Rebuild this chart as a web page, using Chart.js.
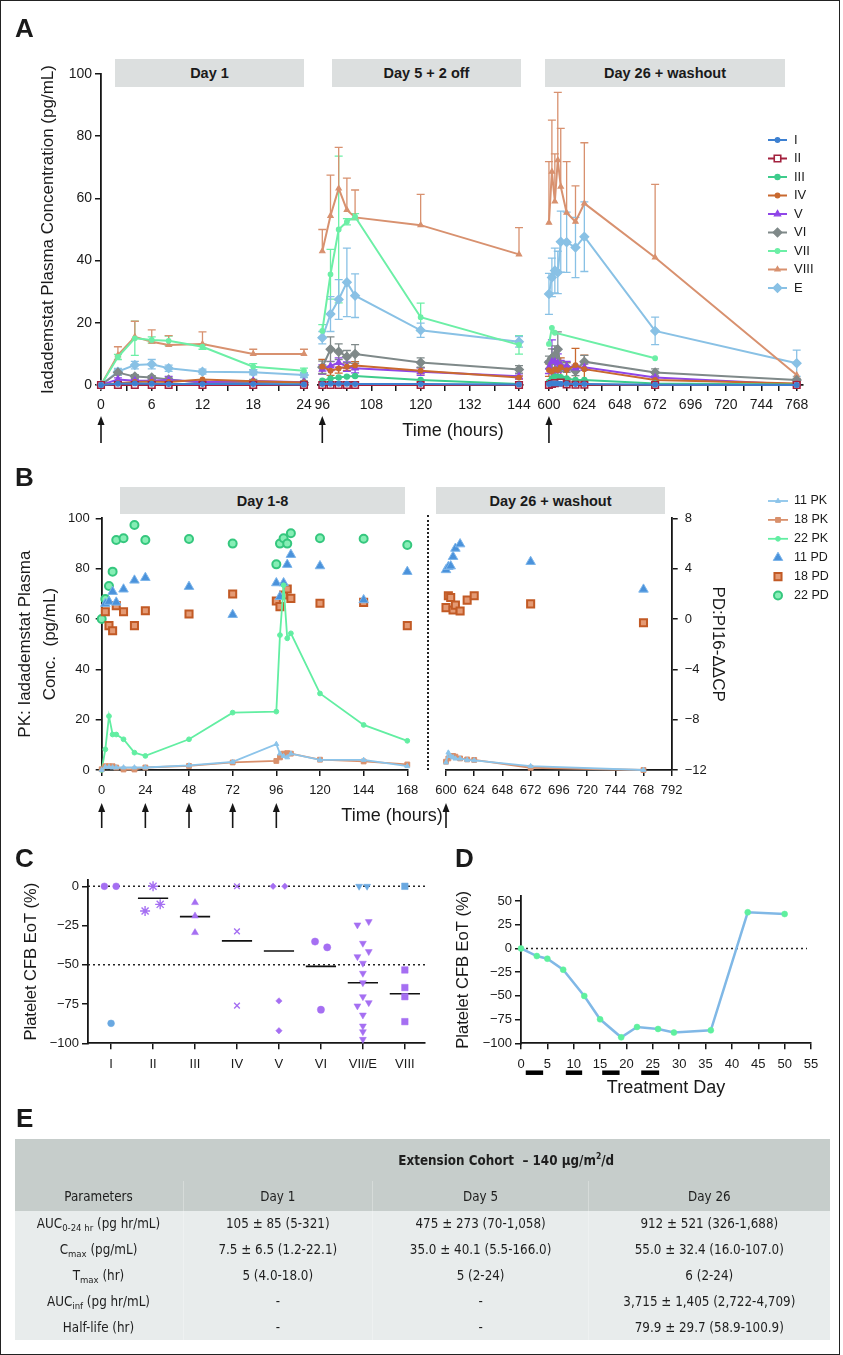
<!DOCTYPE html>
<html lang="en">
<head>
<meta charset="utf-8">
<title>Iadademstat PK/PD</title>
<script src="https://cdn.jsdelivr.net/npm/chart.js@4.4.1/dist/chart.umd.min.js"></script>
<style>
  html, body { margin: 0; padding: 0; background: #fff; }
  body { position: relative; width: 843px; height: 1355px; overflow: hidden;
         font-family: "Liberation Sans", Arial, sans-serif; color: #1a1a1a; }
  canvas { position: absolute; left: 0; top: 0; pointer-events: none; }
  .frame { position: absolute; left: 0; top: 0; width: 840px; height: 1355px;
           box-sizing: border-box; border: 1.5px solid #222; }
  .letter { position: absolute; font-size: 26px; font-weight: bold; line-height: 1; }
  .band { position: absolute; height: 28px; background: #dcdfdf; font-size: 14.5px; font-weight: bold;
          display: flex; align-items: center; justify-content: center; }
  .xtitle { position: absolute; font-size: 18px; line-height: 1; white-space: nowrap; transform: translate(-50%, -50%); }
  .gap { position: absolute; left: 426.5px; top: 515px; height: 255px; border-left: 2px dotted #222; }
  #pk { position: absolute; left: 14.5px; top: 1139px; width: 815px; border-collapse: collapse; table-layout: fixed;
        font-family: "Liberation Sans Narrow", "DejaVu Sans Condensed", "Liberation Sans", sans-serif;
        font-size: 13.3px; color: #1e1e1e; }
  #pk th, #pk td { text-align: center; padding: 0; white-space: nowrap; border-left: 1px solid rgba(255,255,255,0.28); }
  #pk th:first-child, #pk td:first-child { border-left: none; }
  #pk thead tr.top th { border-left: none; }
  #pk thead { background: #c6cdcb; }
  #pk tbody { background: #e8ecec; }
  #pk thead tr.top th { height: 42px; font-weight: bold; }
  #pk thead tr.cols th { height: 30px; font-weight: normal; }
  #pk tbody td { height: 25.8px; }
  #pk sub { font-size: 9.5px; vertical-align: -3px; line-height: 0; }
  #pk sup { font-size: 8.5px; vertical-align: 6px; line-height: 0; }
</style>
</head>
<body>
<canvas id="a1" width="843" height="1355"></canvas>
<canvas id="a2" width="843" height="1355"></canvas>
<canvas id="a3" width="843" height="1355"></canvas>
<canvas id="b1" width="843" height="1355"></canvas>
<canvas id="b2" width="843" height="1355"></canvas>
<canvas id="c" width="843" height="1355"></canvas>
<canvas id="d" width="843" height="1355"></canvas>

<div class="frame"></div>
<div class="letter" style="left:15px;top:15px">A</div>
<div class="letter" style="left:15px;top:464px">B</div>
<div class="letter" style="left:15px;top:845px">C</div>
<div class="letter" style="left:455px;top:845px">D</div>
<div class="letter" style="left:16px;top:1105px">E</div>

<div class="band" style="left:115px;top:59px;width:189px">Day 1</div>
<div class="band" style="left:332px;top:59px;width:189px">Day 5 + 2 off</div>
<div class="band" style="left:545px;top:59px;width:240px">Day 26 + washout</div>
<div class="band" style="left:120px;top:487px;width:285px;height:27px">Day 1-8</div>
<div class="band" style="left:436px;top:487px;width:229px;height:27px">Day 26 + washout</div>

<div class="xtitle" style="left:453px;top:430px">Time (hours)</div>
<div class="xtitle" style="left:392px;top:815px">Time (hours)</div>
<div class="gap"></div>

<table id="pk">
  <colgroup><col style="width:168.5px"><col style="width:189.6px"><col style="width:216px"><col style="width:240.9px"></colgroup>
  <thead>
    <tr class="top"><th></th><th colspan="3">Extension Cohort &nbsp;– 140 µg/m<sup>2</sup>/d</th></tr>
    <tr class="cols"><th>Parameters</th><th>Day 1</th><th>Day 5</th><th>Day 26</th></tr>
  </thead>
  <tbody></tbody>
</table>

<script>
// ---------- Panel A: mean plasma concentration by cohort ----------
const groupsA = ['I', 'II', 'III', 'IV', 'V', 'VI', 'VII', 'VIII', 'E'];

const day1Hours = [0, 2, 4, 6, 8, 12, 18, 24];
const day1_I    = [0, 0.4, 0.5, 0.4, 0.3, 0.3, 0.3, 0.2];
const day1_II   = [0, 0, 0, 0, 0, 0, 0, 0];
const day1_III  = [0, 0.2, 0.2, 0.3, 0.2, 0.2, 0.2, 0.1];
const day1_IV   = [0, 0.6, 1.0, 1.1, 1.0, 1.8, 1.2, 0.8];
const day1_V    = [0, 1.8, 1.4, 1.4, 1.6, 1.0, 1.3, 0.9];
const day1_VI   = [0, 4.0, 2.7, 2.4, 1.8, 0.7, 1.0, 0.7];
const day1_VII  = [0, 9.0, 15.0, 14.5, 14.2, 12.3, 5.9, 4.6];
const day1_VIII = [0, 9.6, 15.5, 13.9, 12.9, 13.2, 10.0, 10.0];
const day1_E    = [0, 4.3, 6.4, 6.7, 5.4, 4.3, 4.1, 3.2];
const day1Sd_V    = [0, 0.5, 0.4, 0.4, 1.2, 0.3, 0.3, 0.3];
const day1Sd_VI   = [0, 0.8, 0.6, 0.6, 0.5, 0.3, 0.8, 0.5];
const day1Sd_VII  = [0, 0.8, 5.5, 1.0, 1.5, 0.8, 1.0, 0.8];
const day1Sd_VIII = [0, 2.7, 5.0, 3.8, 3.0, 3.9, 1.5, 1.5];
const day1Sd_E    = [0, 1.0, 1.2, 1.5, 1.0, 0.8, 0.8, 0.8];

const day5Hours = [96, 98, 100, 102, 104, 120, 144];
const day5_I    = [0.3, 0.4, 0.4, 0.4, 0.3, 0.3, 0.2];
const day5_II   = [0, 0, 0, 0, 0, 0, 0];
const day5_III  = [1.4, 2.1, 2.4, 2.7, 2.9, 1.6, 0.3];
const day5_IV   = [5.9, 4.6, 5.3, 5.9, 6.3, 4.6, 2.4];
const day5_V    = [5.0, 6.1, 7.2, 5.9, 5.4, 4.3, 2.8];
const day5_VI   = [5.7, 11.5, 10.7, 9.1, 10.0, 7.2, 5.0];
const day5_VII  = [17.4, 35.6, 50.0, 52.5, 54.1, 21.8, 12.9];
const day5_VIII = [43.0, 54.4, 63.2, 56.3, 53.9, 51.4, 42.0];
const day5_E    = [15.2, 22.8, 27.5, 33.0, 28.7, 17.6, 13.9];
const day5Sd_IV   = [2.3, 1.5, 1.5, 1.2, 1.2, 1.0, 0.5];
const day5Sd_V    = [1.5, 1.5, 1.5, 1.5, 1.5, 1.2, 0.8];
const day5Sd_VI   = [2.0, 4.0, 2.5, 2.0, 3.0, 1.5, 1.2];
const day5Sd_VII  = [2.0, 8.0, 23.6, 1.0, 1.0, 4.5, 3.0];
const day5Sd_VIII = [7.0, 13.1, 13.2, 10.2, 8.8, 9.9, 8.6];
const day5Sd_E    = [2.0, 5.6, 6.4, 11.0, 7.0, 2.3, 1.7];

const day26Hours = [600, 602, 604, 606, 608, 612, 618, 624, 672, 768];
const day26_I    = [0.3, 0.5, 0.5, 0.5, 0.4, 0.4, 0.3, 0.3, 0.1, 0];
const day26_II   = [0, 0.3, 0.6, null, 0.8, 0.2, 0.1, 0.1, 0, 0];
const day26_III  = [1.0, 2.1, 2.7, 2.7, 2.5, 2.1, 1.6, 1.6, 0.5, 0.2];
const day26_IV   = [4.8, 4.3, 5.0, 4.8, 5.7, 4.8, 6.4, 5.1, 1.6, 0.5];
const day26_V    = [5.7, 7.5, 7.5, 7.0, 6.4, 6.1, 5.4, 5.7, 2.4, 0.2];
const day26_VI   = [7.3, 8.6, 9.6, 11.5, 5.9, 5.6, 4.5, 7.5, 4.0, 1.6];
const day26_VII  = [13.2, 18.4, 16.8, null, null, null, null, null, 8.6, null];
const day26_VIII = [52.2, 68.6, 59.0, 72.3, 63.8, 55.4, 52.5, 58.4, 41.0, 3.2];
const day26_E    = [29.3, 34.6, 36.8, 36.2, 46.1, 45.9, 44.2, 47.7, 17.4, 7.0];
const day26Sd_IV   = [2.0, 2.5, 3.0, 3.0, 3.0, 2.5, 5.4, 4.5, 0.8, 0.3];
const day26Sd_V    = [2.0, 7.0, 4.0, 3.0, 1.5, 1.5, 1.0, 1.0, 0.5, 0.2];
const day26Sd_VI   = [2.0, 3.0, 3.0, 5.6, 1.5, 1.5, 1.5, 2.0, 1.2, 0.5];
const day26Sd_VIII = [19.6, 16.6, 15.3, 21.8, 18.7, 16.4, 11.5, 19.5, 23.5, 0];
const day26Sd_E    = [6.6, 6.2, 7.2, 6.8, 9.8, 9.7, 9.7, 11.2, 4.4, 4.2];

const aYTicks = [0, 20, 40, 60, 80, 100];
const a1Ticks = [0, 3, 6, 9, 12, 15, 18, 21, 24];
const a1Labels = [0, 6, 12, 18, 24];
const a2Ticks = [96, 102, 108, 114, 120, 126, 132, 138, 144];
const a2Labels = [96, 108, 120, 132, 144];
const a3Ticks = [600, 612, 624, 636, 648, 660, 672, 684, 696, 708, 720, 732, 744, 756, 768];
const a3Labels = [600, 624, 648, 672, 696, 720, 744, 768];

// ---------- Panel B: three patients, PK (left) and PD (right) ----------
const bHours1 = [0, 2, 4, 6, 8, 12, 18, 24, 48, 72, 96, 98, 100, 102, 104, 120, 144, 168];
const pk11_1 = [0, 1.2, 1.2, 1.0, 1.0, 1.0, 1.0, 1.0, 1.8, 3.2, 10.3, 6.5, 5.5, 5.0, 6.5, 4.0, 4.0, 1.5];
const pk18_1 = [0.3, 1.5, 1.5, 1.5, 1.0, 0.2, 0.2, 1.0, 1.6, 3.0, 3.6, 5.0, 6.5, 6.7, 6.5, 4.1, 3.4, 2.2];
const pk22_1 = [0, 8.2, 21.4, 14.1, 14.1, 12.2, 6.9, 5.6, 12.2, 22.8, 23.2, 53.6, 73.4, 52.3, 54.3, 30.4, 17.9, 11.6];
const pd11_1 = [null, 1.22, 1.38, 2.17, 1.32, 2.36, 3.07, 3.28, 2.57, 0.34, 2.86, 1.77, 2.86, 4.32, 5.11, 4.21, 1.51, 3.76];
const pd18_1 = [null, 0.58, -0.53, -0.93, 1.06, 0.58, -0.53, 0.66, 0.40, 1.99, 1.43, 0.98, 1.91, 2.38, 1.64, 1.25, 1.32, -0.53];
const pd22_1 = [0.0, 1.59, 2.62, 3.76, 6.28, 6.41, 7.47, 6.28, 6.36, 5.99, 4.34, 5.99, 6.41, 5.99, 6.81, 6.41, 6.38, 5.88];

const bHours2 = [600, 602, 604, 606, 608, 612, 618, 624, 672, 768];
const pk11_2 = [3.0, 6.9, 5.5, 5.0, 4.5, 4.5, 4.0, 3.8, 1.5, 0];
const pk18_2 = [3.3, 4.6, 5.6, 5.6, 5.3, 4.6, 4.2, 4.0, 0.9, 0];
const pd11_2 = [3.9, 4.15, 4.2, 4.95, 5.6, 5.95, null, null, 4.55, 2.35];
const pd18_2 = [0.9, 1.85, 1.7, 0.72, 1.1, 0.64, 1.5, 1.85, 1.2, -0.3];

const bYTicks = [0, 20, 40, 60, 80, 100];
const bPdTicks = [-12, -8, -4, 0, 4, 8];
const b1Ticks = [0, 24, 48, 72, 96, 120, 144, 168];
const b2Ticks = [600, 624, 648, 672, 696, 720, 744, 768, 792];
const bDoses1 = [0, 24, 48, 72, 96];
const bDoses2 = [600];

// ---------- Panel C: platelet change from baseline by cohort ----------
const cCats = ['I', 'II', 'III', 'IV', 'V', 'VI', 'VII/E', 'VIII'];
const cVal_I    = [0, 0, -87.3];
const cVal_II   = [0, -15.7, -11.5];
const cVal_III  = [-10.4, -18.9, -29.5];
const cVal_IV   = [0, -28.7, -76.0];
const cVal_V    = [0, 0, -73.0, -92.0];
const cVal_VI   = [-35.2, -38.9, -78.6];
const cVal_VII  = [0, 0, -22.5, -24.6, -36.3, -41.6, -44.8, -49.0, -55.4, -61.4, -70.3, -74.1, -76.2, -82.0, -89.0, -92.6, -97.5];
const cVal_VIII = [0, -53.3, -64.5, -70.3, -86.2];
const cJit_I    = [-0.16, 0.12, 0];
const cJit_II   = [0, -0.19, 0.17];
const cJit_III  = [0, 0, 0];
const cJit_IV   = [0, 0, 0];
const cJit_V    = [-0.14, 0.14, 0, 0];
const cJit_VI   = [-0.14, 0.15, 0];
const cJit_VII  = [-0.09, 0.10, 0.14, -0.13, 0, 0.14, -0.13, 0, 0, 0, 0, 0.14, -0.13, 0, 0, 0, 0];
const cJit_VIII = [0, 0, 0, 0, 0];
const cExt_I    = [0, 0, 1];
const cExt_VII  = [1, 1, 0, 0, 0, 0, 0, 0, 0, 0, 0, 0, 0, 0, 0, 0, 0];
const cExt_VIII = [1, 0, 0, 0, 0];
const cMedian   = [null, -7.6, -19.3, -34.8, -41.2, -51.0, -61.4, -68.4];
const cYTicks = [-100, -75, -50, -25, 0];

// ---------- Panel D: platelet change over treatment days ----------
const dDays = [0, 3, 5, 8, 12, 15, 19, 22, 26, 29, 36, 43, 50];
const dCfb  = [0, -8.0, -10.8, -22.4, -50.1, -74.7, -93.7, -82.8, -84.9, -88.7, -86.3, 38.1, 36.3];
const dDosing = [[0.9, 4.2], [8.5, 11.6], [15.4, 18.7], [22.8, 26.2]];
const dXTicks = [0, 5, 10, 15, 20, 25, 30, 35, 40, 45, 50, 55];
const dYTicks = [-100, -75, -50, -25, 0, 25, 50];

// ---------- Panel E: table ----------
const pkParams = ['AUC<sub>0-24 hr</sub> (pg hr/mL)', 'C<sub>max</sub> (pg/mL)', 'T<sub>max</sub> (hr)', 'AUC<sub>inf</sub> (pg hr/mL)', 'Half-life (hr)'];
const pkDay1  = ['105 ± 85 (5-321)', '7.5 ± 6.5 (1.2-22.1)', '5 (4.0-18.0)', '-', '-'];
const pkDay5  = ['475 ± 273 (70-1,058)', '35.0 ± 40.1 (5.5-166.0)', '5 (2-24)', '-', '-'];
const pkDay26 = ['912 ± 521 (326-1,688)', '55.0 ± 32.4 (16.0-107.0)', '6 (2-24)', '3,715 ± 1,405 (2,722-4,709)', '79.9 ± 29.7 (58.9-100.9)'];

// ===================================================================
const W = 843, H = 1355;
const ink = '#161616';
const FONT = '"Liberation Sans", Arial, sans-serif';
Chart.defaults.font.family = FONT;
Chart.defaults.color = '#1a1a1a';

const tickGrid = { display: true, drawOnChartArea: false, drawTicks: true, tickLength: 6, color: ink, lineWidth: 1.5 };
const axisBorder = { display: true, color: ink, width: 1.8 };
const fmt = v => (v < 0 ? '\u2212' + Math.abs(v) : String(v));
const pairs = (xs, ys) => xs.map((x, i) => ({ x, y: ys[i] }));

// error bars (mean ± SD), drawn under the lines
const errorBars = {
  id: 'errorBars',
  beforeDatasetsDraw(chart) {
    const ctx = chart.ctx;
    chart.data.datasets.forEach(ds => {
      if (!ds.sdUp) return;
      const xs = chart.scales.x, ys = chart.scales[ds.yAxisID || 'y'];
      ctx.save();
      ctx.strokeStyle = ds.borderColor;
      ctx.lineWidth = 1.3;
      ds.data.forEach((p, j) => {
        const up = ds.sdUp[j] || 0, dn = ds.sdDown ? (ds.sdDown[j] || 0) : 0;
        if (p.y == null || (!up && !dn)) return;
        const x = xs.getPixelForValue(p.x);
        const y1 = ys.getPixelForValue(p.y + up);
        const y2 = ys.getPixelForValue(Math.max(p.y - dn, ys.min));
        ctx.beginPath();
        ctx.moveTo(x, y1); ctx.lineTo(x, y2);
        if (up) { ctx.moveTo(x - 4, y1); ctx.lineTo(x + 4, y1); }
        if (dn && p.y - dn > ys.min) { ctx.moveTo(x - 4, y2); ctx.lineTo(x + 4, y2); }
        ctx.stroke();
      });
      ctx.restore();
    });
  }
};

// dosing arrows under the time axis
const doseArrows = {
  id: 'doseArrows',
  afterDraw(chart, args, opts) {
    if (!opts.at) return;
    const { ctx, chartArea } = chart;
    const top = chartArea.bottom + opts.offset, bottom = top + opts.length;
    ctx.save();
    ctx.strokeStyle = ink; ctx.fillStyle = ink; ctx.lineWidth = 1.6;
    opts.at.forEach(v => {
      const x = chart.scales.x.getPixelForValue(v);
      ctx.beginPath(); ctx.moveTo(x, top + 6); ctx.lineTo(x, bottom); ctx.stroke();
      ctx.beginPath(); ctx.moveTo(x, top); ctx.lineTo(x - 3.5, top + 9); ctx.lineTo(x + 3.5, top + 9); ctx.closePath(); ctx.fill();
    });
    ctx.restore();
  }
};

// treatment periods in panel D
const dosingBars = {
  id: 'dosingBars',
  afterDraw(chart, args, opts) {
    if (!opts.periods) return;
    const { ctx, chartArea } = chart;
    const y = chartArea.bottom + opts.offset;
    ctx.save();
    ctx.strokeStyle = '#000'; ctx.lineWidth = opts.width; ctx.lineCap = 'butt';
    opts.periods.forEach(([a, b]) => {
      ctx.beginPath();
      ctx.moveTo(chart.scales.x.getPixelForValue(a), y);
      ctx.lineTo(chart.scales.x.getPixelForValue(b), y);
      ctx.stroke();
    });
    ctx.restore();
  }
};

// dotted reference lines
const refLines = {
  id: 'refLines',
  beforeDatasetsDraw(chart, args, opts) {
    if (!opts.values) return;
    const { ctx, chartArea } = chart;
    ctx.save();
    ctx.setLineDash([2, 3]); ctx.strokeStyle = '#222'; ctx.lineWidth = 1.6;
    opts.values.forEach(v => {
      const y = chart.scales.y.getPixelForValue(v);
      ctx.beginPath(); ctx.moveTo(chartArea.left, y); ctx.lineTo(chartArea.right - (opts.trim || 0), y); ctx.stroke();
    });
    ctx.restore();
  }
};

// small legend drawn from the datasets' own styles
const sideLegend = {
  id: 'sideLegend',
  afterDraw(chart, args, opts) {
    if (!opts.display) return;
    const ctx = chart.ctx;
    ctx.save();
    ctx.font = opts.font;
    ctx.textBaseline = 'middle';
    chart.data.datasets.forEach((ds, i) => {
      const y = opts.y + i * opts.gap;
      const x0 = opts.x, x1 = opts.x + opts.lineLen;
      if (ds.showLine !== false) {
        ctx.strokeStyle = ds.borderColor; ctx.lineWidth = ds.borderWidth || 2;
        ctx.beginPath(); ctx.moveTo(x0, y); ctx.lineTo(x1, y); ctx.stroke();
      }
      ctx.fillStyle = ds.pointBackgroundColor || ds.backgroundColor;
      ctx.strokeStyle = ds.pointBorderColor || ds.borderColor;
      ctx.lineWidth = ds.pointBorderWidth || 1;
      Chart.helpers.drawPoint(ctx, { pointStyle: ds.pointStyle, radius: ds.pointRadius, rotation: ds.pointRotation || 0,
        borderWidth: ds.pointBorderWidth || 1 }, (x0 + x1) / 2, y);
      ctx.fillStyle = '#1a1a1a';
      ctx.fillText(ds.label, x1 + opts.textGap, y);
    });
    ctx.restore();
  }
};

Chart.register(errorBars, doseArrows, dosingBars, refLines, sideLegend);

function padFor(area, leftW, rightW, bottomH) {
  return { left: area.left - leftW, right: W - area.right - rightW, top: area.top, bottom: H - area.bottom - bottomH };
}

function xAxis(o) {
  return {
    type: 'linear', position: 'bottom', min: o.min, max: o.max,
    afterBuildTicks: s => { s.ticks = o.ticks.map(v => ({ value: v })); },
    afterFit: s => { s.height = o.height; },
    ticks: { autoSkip: false, maxRotation: 0, minRotation: 0, padding: o.pad, font: { size: o.size },
             callback: v => ((o.labels || o.ticks).includes(v) ? (o.name ? o.name(v) : fmt(v)) : '') },
    grid: tickGrid, border: axisBorder,
    title: o.title || { display: false }
  };
}

function yAxis(o) {
  return {
    type: 'linear', position: o.position || 'left', display: o.display !== false, min: o.min, max: o.max,
    afterBuildTicks: s => { if (o.ticks) s.ticks = o.ticks.map(v => ({ value: v })); },
    afterFit: s => { s.width = o.width || 0; },
    ticks: { padding: o.pad, font: { size: o.size }, callback: v => fmt(v) },
    grid: tickGrid, border: axisBorder,
    title: o.title || { display: false }
  };
}

function draw(id, type, datasets, scales, area, sizes, plugins) {
  return new Chart(document.getElementById(id), {
    type,
    data: { datasets },
    options: {
      responsive: false, animation: false, events: [],
      layout: { padding: padFor(area, sizes[0], sizes[1], sizes[2]) },
      scales,
      plugins: Object.assign({ legend: { display: false }, tooltip: { enabled: false } }, plugins || {})
    }
  });
}

// ---------- Panel A ----------
const aStyle = [
  { color: '#3d80d1', fill: '#3d80d1', style: 'circle', r: 2.3 },
  { color: '#a3213e', fill: '#ffffff', style: 'rect', r: 4.6 },
  { color: '#3ecc8c', fill: '#3ecc8c', style: 'circle', r: 2.6 },
  { color: '#c9692f', fill: '#c9692f', style: 'circle', r: 2.3 },
  { color: '#8f46e8', fill: '#8f46e8', style: 'triangle', r: 3.6 },
  { color: '#7f8989', fill: '#7f8989', style: 'rectRot', r: 4.4 },
  { color: '#6cefa6', fill: '#6cefa6', style: 'circle', r: 2.3 },
  { color: '#d8916f', fill: '#d8916f', style: 'triangle', r: 3.0 },
  { color: '#89c1e5', fill: '#89c1e5', style: 'rectRot', r: 4.4 }
];

function aSets(hours, vals, sds) {
  return groupsA.map((g, k) => ({
    label: g,
    data: pairs(hours, vals[k]),
    sdUp: sds[k],
    sdDown: g === 'VIII' ? null : sds[k],
    borderColor: aStyle[k].color,
    backgroundColor: aStyle[k].fill,
    pointBackgroundColor: aStyle[k].fill,
    pointBorderColor: aStyle[k].color,
    pointStyle: aStyle[k].style,
    pointRadius: aStyle[k].r,
    pointBorderWidth: g === 'II' ? 1.6 : 1.2,
    borderWidth: 2,
    spanGaps: true,
    clip: false
  }));
}

const day1Vals = [day1_I, day1_II, day1_III, day1_IV, day1_V, day1_VI, day1_VII, day1_VIII, day1_E];
const day1Sds = [null, null, null, null, day1Sd_V, day1Sd_VI, day1Sd_VII, day1Sd_VIII, day1Sd_E];
const day5Vals = [day5_I, day5_II, day5_III, day5_IV, day5_V, day5_VI, day5_VII, day5_VIII, day5_E];
const day5Sds = [null, null, null, day5Sd_IV, day5Sd_V, day5Sd_VI, day5Sd_VII, day5Sd_VIII, day5Sd_E];
const day26Vals = [day26_I, day26_II, day26_III, day26_IV, day26_V, day26_VI, day26_VII, day26_VIII, day26_E];
const day26Sds = [null, null, null, day26Sd_IV, day26Sd_V, day26Sd_VI, null, day26Sd_VIII, day26Sd_E];

const aTop = 74, aBottom = 385;
const aArrows = { offset: 31, length: 27 };

draw('a1', 'line', aSets(day1Hours, day1Vals, day1Sds), {
  x: xAxis({ min: 0, max: 24.5, ticks: a1Ticks, labels: a1Labels, pad: 6, size: 14, height: 30 }),
  y: yAxis({ min: 0, max: 100, ticks: aYTicks, pad: 3, size: 14, width: 67.2,
    title: { display: true, text: 'Iadademstat Plasma Concentration (pg/mL)', font: { size: 17 }, padding: { top: 4, bottom: 4 } } })
}, { left: 101, right: 308.2, top: aTop, bottom: aBottom }, [67.2, 0, 30],
{ doseArrows: Object.assign({ at: [0] }, aArrows) });

draw('a2', 'line', aSets(day5Hours, day5Vals, day5Sds), {
  x: xAxis({ min: 95, max: 145, ticks: a2Ticks, labels: a2Labels, pad: 6, size: 14, height: 30 }),
  y: yAxis({ display: false, min: 0, max: 100 })
}, { left: 318.2, right: 523.1, top: aTop, bottom: aBottom }, [0, 0, 30],
{ doseArrows: Object.assign({ at: [96] }, aArrows) });

draw('a3', 'line', aSets(day26Hours, day26Vals, day26Sds), {
  x: xAxis({ min: 598, max: 772, ticks: a3Ticks, labels: a3Labels, pad: 6, size: 14, height: 30 }),
  y: yAxis({ display: false, min: 0, max: 100 })
}, { left: 546, right: 802.6, top: aTop, bottom: aBottom }, [0, 0, 30],
{ doseArrows: Object.assign({ at: [600] }, aArrows),
  sideLegend: { display: true, x: 768, y: 140, gap: 18.5, lineLen: 19, textGap: 7, font: '13px ' + FONT } });

// ---------- Panel B ----------
function pkLine(label, hours, vals, color, style, r) {
  return { label, data: pairs(hours, vals), yAxisID: 'y', borderColor: color, backgroundColor: color,
    pointBackgroundColor: color, pointBorderColor: color, pointStyle: style, pointRadius: r,
    pointBorderWidth: 1, borderWidth: 1.8, spanGaps: true, clip: false };
}
function pdDots(label, hours, vals, fill, edge, style, r, bw) {
  return { label, data: pairs(hours, vals), yAxisID: 'y2', showLine: false, borderColor: edge, backgroundColor: fill,
    pointBackgroundColor: fill, pointBorderColor: edge, pointStyle: style, pointRadius: r, pointBorderWidth: bw, clip: false };
}
const col11 = '#8cc4ea', col18 = '#d9906c', col22 = '#62eea2';

const bTop = 518.3, bBottom = 770;
const bArrows = { offset: 33, length: 25 };

draw('b1', 'line', [
  pkLine('11 PK', bHours1, pk11_1, col11, 'triangle', 2.8),
  pkLine('18 PK', bHours1, pk18_1, col18, 'rect', 3.4),
  pkLine('22 PK', bHours1, pk22_1, col22, 'circle', 2.4),
  pdDots('11 PD', bHours1, pd11_1, '#4a92db', '#7db5ea', 'triangle', 5.5, 1),
  pdDots('18 PD', bHours1, pd18_1, '#e49a74', '#c25a25', 'rect', 5, 2),
  pdDots('22 PD', bHours1, pd22_1, '#86eeb5', '#35c77e', 'circle', 4, 2)
], {
  x: xAxis({ min: 0, max: 168, ticks: b1Ticks, pad: 7, size: 13, height: 30 }),
  y: yAxis({ min: 0, max: 100, ticks: bYTicks, pad: 6, size: 13, width: 93,
    title: { display: true, text: ['PK: Iadademstat Plasma', 'Conc.  (pg/mL)'], font: { size: 17, lineHeight: 1.47 }, padding: { top: 4, bottom: 4 } } }),
  y2: yAxis({ display: false, position: 'right', min: -12, max: 8 })
}, { left: 101.7, right: 407.3, top: bTop, bottom: bBottom }, [93, 0, 30],
{ doseArrows: Object.assign({ at: bDoses1 }, bArrows),
  sideLegend: { display: true, x: 768, y: 501, gap: 18.9, lineLen: 20, textGap: 6, font: '12.5px ' + FONT } });

draw('b2', 'line', [
  pkLine('11 PK', bHours2, pk11_2, col11, 'triangle', 2.8),
  pkLine('18 PK', bHours2, pk18_2, col18, 'rect', 3.4),
  pdDots('11 PD', bHours2, pd11_2, '#4a92db', '#7db5ea', 'triangle', 5.5, 1),
  pdDots('18 PD', bHours2, pd18_2, '#e49a74', '#c25a25', 'rect', 5, 2)
], {
  x: xAxis({ min: 600, max: 792, ticks: b2Ticks, pad: 7, size: 13, height: 30 }),
  y: yAxis({ display: false, min: 0, max: 100 }),
  y2: yAxis({ position: 'right', min: -12, max: 8, ticks: bPdTicks, pad: 7, size: 13, width: 60.5,
    title: { display: true, text: 'PD:PI16-\u0394\u0394CP', font: { size: 17 }, padding: { top: 4, bottom: 4 } } })
}, { left: 446, right: 671.7, top: bTop, bottom: bBottom }, [0, 60.5, 30],
{ doseArrows: Object.assign({ at: bDoses2 }, bArrows) });

// ---------- Panel C ----------
const cPurple = '#a56ff2', cBlue = '#69a8e1';
const cShape = [
  { style: 'circle', r: 3.4, bw: 0.5 },
  { style: 'star', r: 5, bw: 1.4 },
  { style: 'triangle', r: 4, bw: 0.5 },
  { style: 'crossRot', r: 4, bw: 1.4 },
  { style: 'rectRot', r: 3.2, bw: 0.5 },
  { style: 'circle', r: 3.6, bw: 0.5 },
  { style: 'triangle', r: 4, bw: 0.5, rot: 180 },
  { style: 'rect', r: 4.6, bw: 0.5 }
];
const cVals = [cVal_I, cVal_II, cVal_III, cVal_IV, cVal_V, cVal_VI, cVal_VII, cVal_VIII];
const cJits = [cJit_I, cJit_II, cJit_III, cJit_IV, cJit_V, cJit_VI, cJit_VII, cJit_VIII];
const cExts = [cExt_I, null, null, null, null, null, cExt_VII, cExt_VIII];

const cSets = cVals.map((vals, k) => {
  const colors = vals.map((v, i) => (cExts[k] && cExts[k][i] ? cBlue : cPurple));
  return {
    data: vals.map((v, i) => ({ x: k + 1 + cJits[k][i], y: v })),
    pointStyle: cShape[k].style, pointRadius: cShape[k].r, pointRotation: cShape[k].rot || 0,
    pointBackgroundColor: colors, pointBorderColor: colors, pointBorderWidth: cShape[k].bw, clip: false
  };
});
const medianPts = [];
cMedian.forEach((m, i) => {
  if (m === null) return;
  medianPts.push({ x: i + 1 - 0.36, y: m }, { x: i + 1 + 0.36, y: m }, { x: i + 1.5, y: null });
});
cSets.push({ data: medianPts, showLine: true, spanGaps: false, borderColor: '#111', borderWidth: 1.6, pointRadius: 0, clip: false });

draw('c', 'scatter', cSets, {
  x: xAxis({ min: 0.45, max: 8.48, ticks: [1, 2, 3, 4, 5, 6, 7, 8], pad: 7, size: 13, height: 30, name: v => cCats[v - 1] }),
  y: yAxis({ min: -100, max: 4, ticks: cYTicks, pad: 3, size: 13, width: 70,
    title: { display: true, text: 'Platelet CFB EoT (%)', font: { size: 16.5 }, padding: { top: 4, bottom: 4 } } })
}, { left: 88, right: 425, top: 880, bottom: 1043.3 }, [70, 0, 30],
{ refLines: { values: [0, -50] } });

// ---------- Panel D ----------
draw('d', 'line', [{
  data: pairs(dDays, dCfb),
  borderColor: '#80b8e6', borderWidth: 2.5,
  pointBackgroundColor: '#5ef09e', pointBorderColor: '#5ef09e', pointRadius: 3, pointBorderWidth: 0.5, clip: false
}], {
  x: xAxis({ min: 0, max: 55, ticks: dXTicks, pad: 7, size: 13, height: 59.5,
    title: { display: true, text: 'Treatment Day', font: { size: 18 }, padding: { top: 0, bottom: 4 } } }),
  y: yAxis({ min: -100, max: 55, ticks: dYTicks, pad: 3, size: 13, width: 71,
    title: { display: true, text: 'Platelet CFB EoT (%)', font: { size: 16.5 }, padding: { top: 4, bottom: 4 } } })
}, { left: 521, right: 811, top: 896.3, bottom: 1043.3 }, [71, 0, 59.5],
{ refLines: { values: [0], trim: 4 }, dosingBars: { periods: dDosing, offset: 29.4, width: 4.5 } });

// ---------- Panel E ----------
const tbody = document.querySelector('#pk tbody');
pkParams.forEach((p, i) => {
  const row = document.createElement('tr');
  row.innerHTML = `<td>${p}</td><td>${pkDay1[i]}</td><td>${pkDay5[i]}</td><td>${pkDay26[i]}</td>`;
  tbody.appendChild(row);
});
</script>
</body>
</html>
